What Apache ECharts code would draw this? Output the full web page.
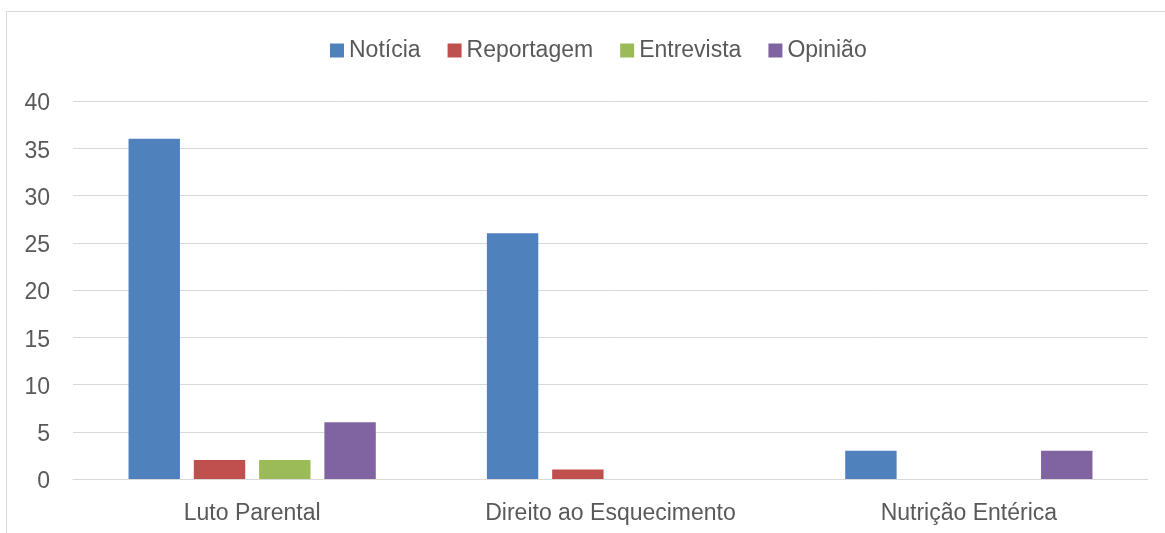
<!DOCTYPE html>
<html>
<head>
<meta charset="utf-8">
<script src="https://cdn.jsdelivr.net/npm/echarts@6/dist/echarts.min.js"></script>
<style>
html,body{margin:0;padding:0;background:#fff;}
#frame{position:absolute;left:6px;top:11px;width:1200px;height:560px;border:1px solid #d9d9d9;box-sizing:border-box;}
#main{position:absolute;left:0;top:0;width:1165px;height:533px;}
</style>
</head>
<body>
<div id="frame"></div>
<div id="main"></div>
<script>
// dados do gráfico
var categorias = ['Luto Parental', 'Direito ao Esquecimento', 'Nutrição Entérica'];
var noticia = [36, 26, 3];
var reportagem = [2, 1, 0];
var entrevista = [2, 0, 0];
var opiniao = [6, 0, 3];
var nomes = ['Notícia', 'Reportagem', 'Entrevista', 'Opinião'];
var cores = ['#4F81BD', '#C0504D', '#9BBB59', '#8064A2'];

var fonte = 'Liberation Sans';
var myChart = echarts.init(document.getElementById('main'));

function serie(i, dados) {
    return {
        name: nomes[i],
        type: 'bar',
        data: dados,
        barGap: '27%',
        barCategoryGap: '31%',
        itemStyle: {color: cores[i]}
    };
}

var option = {
    animation: false,
    color: cores,
    legend: {
        data: nomes,
        top: 34,
        left: 325,
        itemWidth: 14,
        itemHeight: 14,
        itemGap: 27,
        icon: 'rect',
        textStyle: {color: '#595959', fontSize: 23, fontFamily: fonte}
    },
    grid: {left: 73, right: 17, top: 101, bottom: 54, containLabel: false},
    xAxis: {
        type: 'category',
        data: categorias,
        axisLine: {lineStyle: {color: '#d9d9d9', width: 1}},
        axisTick: {show: false},
        axisLabel: {color: '#595959', fontSize: 23, fontFamily: fonte, margin: 23}
    },
    yAxis: {
        type: 'value',
        min: 0,
        max: 40,
        interval: 5,
        axisLine: {show: false},
        axisTick: {show: false},
        axisLabel: {color: '#595959', fontSize: 23, fontFamily: fonte, margin: 23,
            verticalAlign: 'top', lineHeight: 6},
        splitLine: {lineStyle: {color: '#d9d9d9', width: 1}}
    },
    series: [
        serie(0, noticia),
        serie(1, reportagem),
        serie(2, entrevista),
        serie(3, opiniao)
    ]
};
myChart.setOption(option);
</script>
</body>
</html>
